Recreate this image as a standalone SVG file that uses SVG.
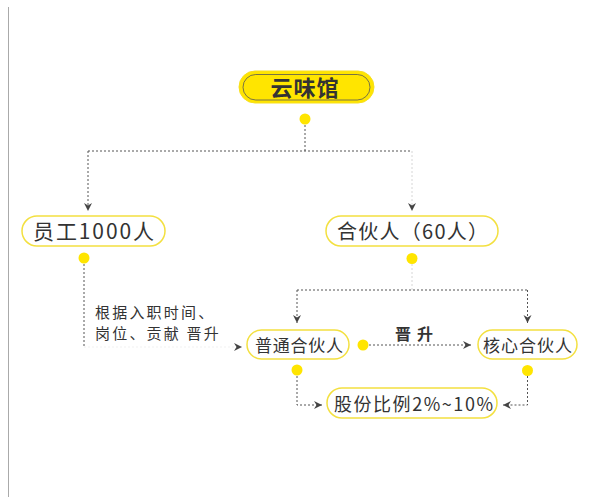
<svg xmlns="http://www.w3.org/2000/svg" width="600" height="503" viewBox="0 0 600 503">
<style>
.t{font-family:"Noto Sans CJK SC","Noto Sans",sans-serif;fill:#333}
.node{fill:#fff;stroke:#F3E040;stroke-width:1.5}
.dot{fill:#FFE500}
.c{fill:none;stroke:#555;stroke-width:1;stroke-dasharray:2 2}
.cf{fill:none;stroke:#d6d6d6;stroke-width:1;stroke-dasharray:2 2}
.cx{fill:none;stroke:#f1f1f1;stroke-width:1;stroke-dasharray:2 2}
</style>
<defs>
<marker id="ah" markerUnits="userSpaceOnUse" markerWidth="9" markerHeight="9" viewBox="0 0 9 9" refX="8" refY="4.5" orient="auto">
<path d="M0,0.5 L8,4.5 L0,8.5 L2.5,4.5 z" fill="#444"/>
</marker>
</defs>
<rect width="600" height="503" fill="#fff"/>
<line x1="8.5" y1="7" x2="8.5" y2="497" stroke="#aaa" stroke-width="1"/>
<g id="connectors">
<path class="c" d="M305,125 V151 M88,151 H412"/>
<path class="c" d="M88,151 V211" marker-end="url(#ah)"/>
<path class="cf" d="M412,151 V211"/>
<path d="M412,211 L412,211.1" fill="none" stroke="none" marker-end="url(#ah)"/>
<path class="c" d="M84,264 V347"/>
<path class="cx" d="M84,347 H242"/>
<path d="M240,347 L242,347" fill="none" stroke="none" marker-end="url(#ah)"/>
<path class="cf" d="M412,264 V290"/>
<path class="c" d="M297,290 H527.5"/>
<path class="c" d="M297,290 V323" marker-end="url(#ah)"/>
<path class="c" d="M527.5,290 V323" marker-end="url(#ah)"/>
<path class="c" d="M369,345 H471" marker-end="url(#ah)"/>
<path class="c" d="M297,376 V405 H322" marker-end="url(#ah)"/>
<path class="c" d="M527.5,376 V405 H503" marker-end="url(#ah)"/>
</g>
<g id="n-root">
<rect x="239" y="71" width="135" height="32" rx="16" fill="#FFE500" stroke="#F7DF1E" stroke-width="1"/>
<rect x="243" y="74.5" width="127" height="25.5" rx="12.75" fill="none" stroke="#555" stroke-width="0.8"/>
<text class="t" x="305" y="95.5" font-size="22" font-weight="bold" text-anchor="middle" fill="#333" letter-spacing="1">云味馆</text>
<circle class="dot" cx="305" cy="119" r="5.5"/>
</g>
<g id="n-staff">
<rect class="node" x="22" y="216" width="143" height="30" rx="15"/>
<text class="t" x="33" y="239" font-size="21" textLength="121" lengthAdjust="spacing">员工1000人</text>
<circle class="dot" cx="84" cy="258" r="5.5"/>
</g>
<g id="n-partner">
<rect class="node" x="326" y="216" width="172" height="30" rx="15"/>
<text class="t" x="337" y="239" font-size="20" textLength="151" lengthAdjust="spacing">合伙人（60人）</text>
<circle class="dot" cx="412" cy="258.5" r="5.5"/>
</g>
<g id="label-rule">
<text class="t" x="95" y="318" font-size="15" letter-spacing="2.2">根据入职时间、</text>
<text class="t" x="95" y="339" font-size="15" letter-spacing="2.2">岗位、贡献 晋升</text>
</g>
<g id="n-normal">
<rect class="node" x="247" y="330" width="102" height="29" rx="14.5"/>
<text class="t" x="255" y="352" font-size="17" textLength="88" lengthAdjust="spacing">普通合伙人</text>
<circle class="dot" cx="363" cy="345" r="5.5"/>
<circle class="dot" cx="297" cy="370" r="5.5"/>
</g>
<g id="label-promote">
<text class="t" x="395" y="340" font-size="16" font-weight="600" textLength="38" lengthAdjust="spacing">晋 升</text>
</g>
<g id="n-core">
<rect class="node" x="478" y="330" width="99" height="29" rx="14.5"/>
<text class="t" x="483" y="352" font-size="17" textLength="89" lengthAdjust="spacing">核心合伙人</text>
<circle class="dot" cx="527.5" cy="370.5" r="5.5"/>
</g>
<g id="n-share">
<rect class="node" x="327" y="388" width="170" height="30" rx="15"/>
<text class="t" x="334" y="410.5" font-size="18" textLength="159" lengthAdjust="spacing">股份比例2%~10%</text>
</g>
</svg>
